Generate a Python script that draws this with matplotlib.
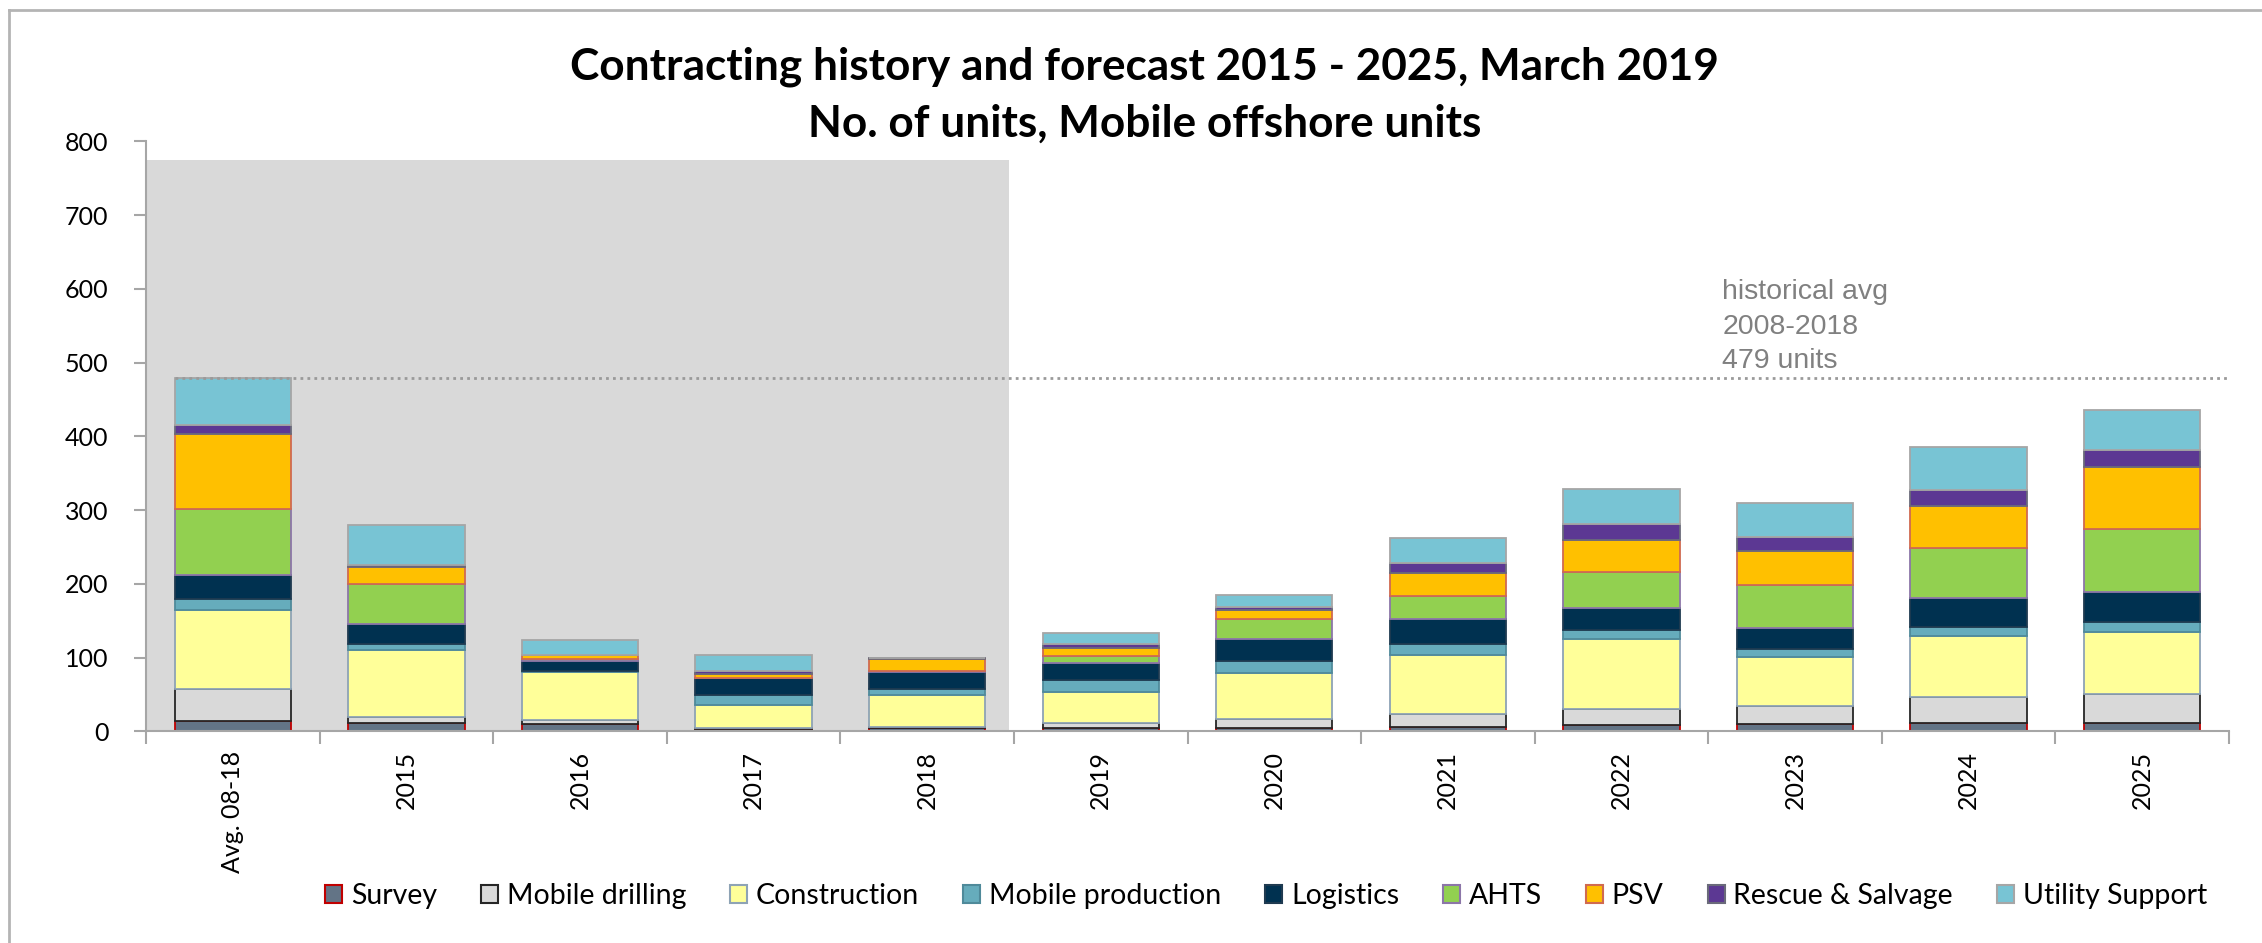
import matplotlib
matplotlib.use("Agg")
import matplotlib.pyplot as plt
from matplotlib.patches import Rectangle
from matplotlib.lines import Line2D
import numpy as np

categories = ["Avg. 08-18", "2015", "2016", "2017", "2018", "2019", "2020",
              "2021", "2022", "2023", "2024", "2025"]
survey        = [14, 11, 10, 3, 4, 4, 4, 6, 9, 10, 11, 11]
mobile_drill  = [44, 8, 5, 1, 2, 7, 13, 17, 21, 25, 36, 40]
construction  = [107, 92, 65, 32, 43, 43, 62, 80, 95, 66, 83, 84]
mobile_prod   = [14, 7, 2, 13, 9, 16, 17, 16, 13, 11, 12, 13]
logistics     = [33, 27, 13, 23, 23, 23, 29, 33, 30, 28, 39, 41]
ahts          = [90, 55, 3, 1, 1, 9, 27, 31, 48, 59, 68, 86]
psv           = [101, 23, 5, 5, 16, 11, 12, 32, 44, 45, 56, 84]
rescue        = [12, 2, 1, 4, 2, 6, 5, 13, 21, 19, 23, 23]
utility       = [64, 55, 20, 21, 0, 14, 16, 34, 48, 47, 57, 54]
historical_avg = 479

series_names = ["Survey", "Mobile drilling", "Construction", "Mobile production",
                "Logistics", "AHTS", "PSV", "Rescue & Salvage", "Utility Support"]
series_vals = [survey, mobile_drill, construction, mobile_prod, logistics,
               ahts, psv, rescue, utility]
face_colors = ["#637486", "#D9D9D9", "#FFFF99", "#66ACBC", "#003150",
               "#92D050", "#FFC000", "#5C3893", "#78C4D4"]
edge_colors = ["#C00000", "#262626", "#8EA3B5", "#4F8A9A", "#1F3A50",
               "#8C76A8", "#D06A50", "#6A6A7A", "#A6A6A6"]

plt.rcParams['font.family'] = ['Lato', 'DejaVu Sans']

fig = plt.figure(figsize=(22.62, 9.43), dpi=100)
ax = fig.add_axes([146/2262, 1-731.4/943, (2229-146)/2262, (731.4-141.4)/943])

x = np.arange(len(categories))
width = 0.67

# shaded history region
ax.add_patch(Rectangle((-0.5, 0), 4.97, 775, facecolor="#D9D9D9",
                       edgecolor="none", zorder=0))

bottom = np.zeros(len(categories))
for name, vals, fc, ec in zip(series_names, series_vals, face_colors, edge_colors):
    v = np.array(vals, dtype=float)
    ax.bar(x, v, width, bottom=bottom, color=fc, edgecolor=ec,
           linewidth=1.3, label=name, zorder=2)
    bottom += v

# historical avg line
ax.plot([-width/2, 11.5], [historical_avg, historical_avg], linestyle=(0, (1, 1.5)),
        color="#9A9A9A", linewidth=2, zorder=3)
ax.text(8.58, 613, "historical avg\n2008-2018\n479 units", fontsize=20.5,
        family="Liberation Sans", color="#808080", va="top", ha="left",
        linespacing=1.42)

ax.set_xlim(-0.5, 11.5)
ax.set_ylim(0, 800)
ax.set_yticks(np.arange(0, 801, 100))
ax.set_xticks(x)
ax.set_xticklabels(categories, rotation=90, fontsize=18)
ax.set_xticks(np.arange(-0.5, 12, 1), minor=True)
ax.tick_params(axis='x', which='major', length=0, pad=14)
ax.tick_params(axis='x', which='minor', length=9, color="#A6A6A6", width=1.5)
ax.tick_params(axis='y', length=9, color="#A6A6A6", width=1.5, labelsize=18, pad=18)
for s in ["top", "right"]:
    ax.spines[s].set_visible(False)
for s in ["left", "bottom"]:
    ax.spines[s].set_color("#A6A6A6")
    ax.spines[s].set_linewidth(1.5)
ax.set_facecolor("none")

fig.text(0.506, 0.929, "Contracting history and forecast 2015 - 2025, March 2019",
         ha="center", va="center", fontsize=31.8, fontweight="bold")
fig.text(0.506, 0.869, "No. of units, Mobile offshore units",
         ha="center", va="center", fontsize=31.8, fontweight="bold")

handles = [Rectangle((0, 0), 1, 1, facecolor=fc, edgecolor=ec, linewidth=1.5)
           for fc, ec in zip(face_colors, edge_colors)]
fig.legend(handles, series_names, loc="center", bbox_to_anchor=(0.5597, 0.05),
           ncol=9, frameon=False, fontsize=20.5, handlelength=0.6, handleheight=0.6,
           handletextpad=0.3, columnspacing=1.55)

# outer frame
fig.add_artist(Line2D([9/2262, 9/2262], [0, 1-10/943], color="#B4B4B4", linewidth=2))
fig.add_artist(Line2D([9/2262, 1], [1-10/943, 1-10/943], color="#B4B4B4", linewidth=2))

fig.savefig("out.png", dpi=100)
